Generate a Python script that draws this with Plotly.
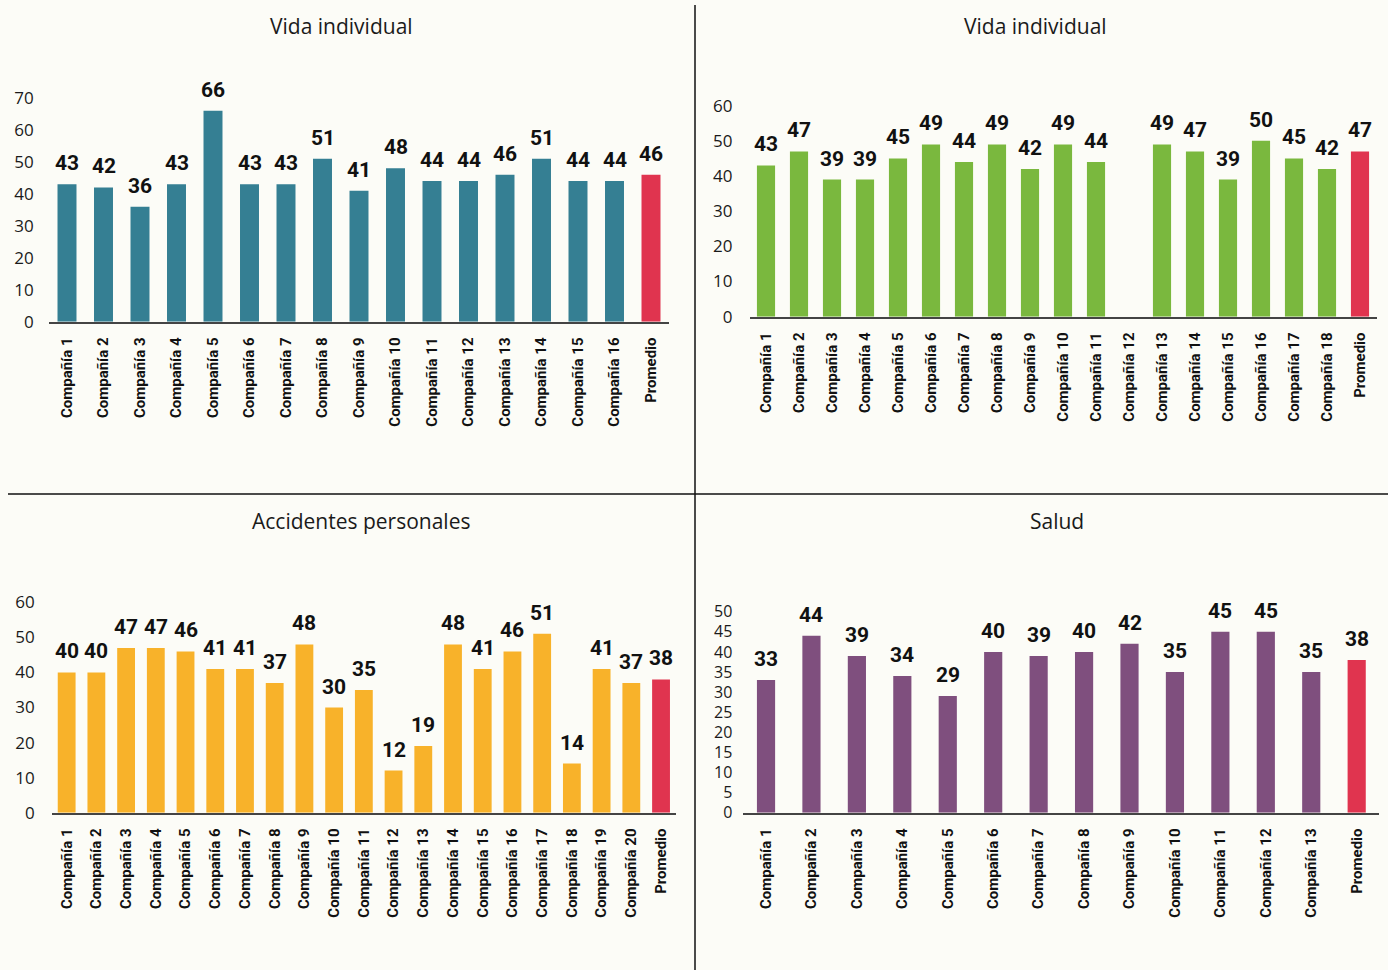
import plotly.graph_objects as go

W, H = 1388, 970

# ---------------- data ----------------
titles = ["Vida individual", "Vida individual", "Accidentes personales", "Salud"]

vida1_cats = [f"Compañía {i}" for i in range(1, 17)] + ["Promedio"]
vida1_vals = [43, 42, 36, 43, 66, 43, 43, 51, 41, 48, 44, 44, 46, 51, 44, 44, 46]

vida2_cats = [f"Compañía {i}" for i in range(1, 19)] + ["Promedio"]
vida2_vals = [43, 47, 39, 39, 45, 49, 44, 49, 42, 49, 44, None, 49, 47, 39, 50, 45, 42, 47]

acc_cats = [f"Compañía {i}" for i in range(1, 21)] + ["Promedio"]
acc_vals = [40, 40, 47, 47, 46, 41, 41, 37, 48, 30, 35, 12, 19, 48, 41, 46, 51, 14, 41, 37, 38]

salud_cats = [f"Compañía {i}" for i in range(1, 14)] + ["Promedio"]
salud_vals = [33, 44, 39, 34, 29, 40, 39, 40, 42, 35, 45, 45, 35, 38]

vida1_ticks = [0, 10, 20, 30, 40, 50, 60, 70]
vida2_ticks = [0, 10, 20, 30, 40, 50, 60]
acc_ticks = [0, 10, 20, 30, 40, 50, 60]
salud_ticks = [0, 5, 10, 15, 20, 25, 30, 35, 40, 45, 50]

# ---------------- styles ----------------
BG = "#fcfcf7"
RED = "#e0344f"
panels = [
    dict(cats=vida1_cats, vals=vida1_vals, ticks=vida1_ticks, color="#357f93",
         xpx=(48.75, 669.25), ypx=(321.7, 98.0), width=0.52, standoff=14, tsize=17,
         title_xy=(341, 26)),
    dict(cats=vida2_cats, vals=vida2_vals, ticks=vida2_ticks, color="#7ab83e",
         xpx=(749.5, 1376.5), ypx=(316.7, 105.7), width=0.55, standoff=16, tsize=17,
         title_xy=(1035, 26)),
    dict(cats=acc_cats, vals=acc_vals, ticks=acc_ticks, color="#f8b22a",
         xpx=(51.8, 675.9), ypx=(812.7, 602.3), width=0.6, standoff=16, tsize=17,
         title_xy=(361, 521)),
    dict(cats=salud_cats, vals=salud_vals, ticks=salud_ticks, color="#7f4f7e",
         xpx=(743.3, 1379.4), ypx=(812.7, 611.7), width=0.4, standoff=10, tsize=16,
         title_xy=(1057, 521)),
]

fig = go.Figure()
annotations = []
for i, p in enumerate(panels, start=1):
    xa = "x" if i == 1 else f"x{i}"
    ya = "y" if i == 1 else f"y{i}"
    colors = [p["color"]] * (len(p["cats"]) - 1) + [RED]
    fig.add_trace(go.Bar(
        x=p["cats"], y=p["vals"], xaxis=xa, yaxis=ya,
        marker=dict(color=colors, line=dict(width=0)),
        width=p["width"], cliponaxis=False,
        showlegend=False, hoverinfo="x+y",
    ))
    # value labels above bars
    for c, v in zip(p["cats"], p["vals"]):
        if v is None:
            continue
        annotations.append(dict(
            x=c, y=v, xref=xa, yref=ya, text=str(v), showarrow=False,
            xanchor="center", yanchor="bottom", yshift=7,
            font=dict(family="Roboto", size=21, color="#111111", weight="bold"),
        ))
    xd = [p["xpx"][0] / W, p["xpx"][1] / W]
    yd = [1 - p["ypx"][0] / H, 1 - p["ypx"][1] / H]
    xkey = "xaxis" if i == 1 else f"xaxis{i}"
    ykey = "yaxis" if i == 1 else f"yaxis{i}"
    fig.update_layout(**{
        xkey: dict(domain=xd, anchor=ya, type="category", automargin=False,
                   showline=True, linecolor="#444444", linewidth=1.5,
                   showgrid=False, zeroline=False, ticks="",
                   tickangle=-90, ticklabelstandoff=8,
                   tickfont=dict(family="Roboto", size=15, color="#111111", weight="bold"),
                   fixedrange=True),
        ykey: dict(domain=yd, anchor=xa, range=[0, p["ticks"][-1]], automargin=False,
                   tickvals=p["ticks"], showline=False, showgrid=False,
                   zeroline=False, ticks="", ticklabelstandoff=p["standoff"],
                   tickfont=dict(family="Open Sans", size=p["tsize"], color="#1a1a1a"),
                   fixedrange=True),
    })
    annotations.append(dict(
        text=titles[i - 1], x=p["title_xy"][0] / W, y=1 - p["title_xy"][1] / H,
        xref="paper", yref="paper", showarrow=False, xanchor="center", yanchor="middle",
        font=dict(family="Open Sans", size=21, color="#1a1a1a"),
    ))

shapes = [
    dict(type="line", xref="paper", yref="paper", x0=695 / W, x1=695 / W,
         y0=1 - 5 / H, y1=0, line=dict(color="#111111", width=1.5)),
    dict(type="line", xref="paper", yref="paper", x0=8 / W, x1=1,
         y0=1 - 494 / H, y1=1 - 494 / H, line=dict(color="#111111", width=1.5)),
]

fig.update_layout(
    width=W, height=H, margin=dict(l=0, r=0, t=0, b=0, autoexpand=False),
    paper_bgcolor=BG, plot_bgcolor=BG,
    annotations=annotations, shapes=shapes,
)

fig.write_html("out.html", config={"displayModeBar": False},
               post_script="document.body.style.margin='0';document.body.style.overflow='hidden';")
